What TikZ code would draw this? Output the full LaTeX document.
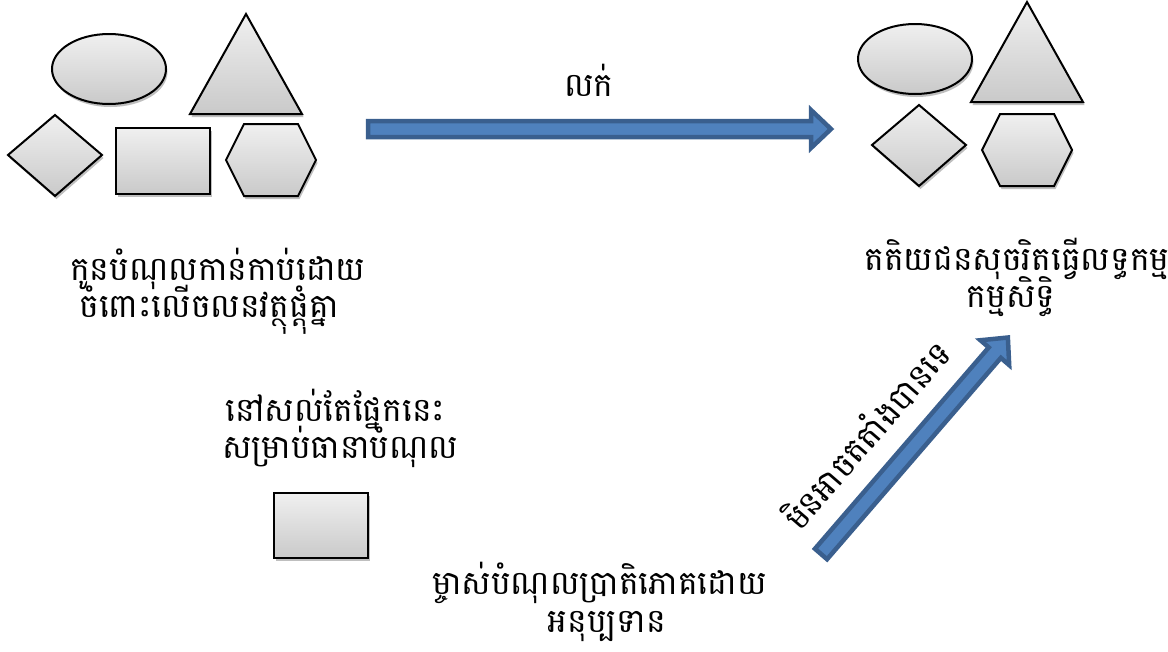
\documentclass[tikz,border=0pt]{standalone}
\usepackage{fontspec}
\newfontfamily\khmer[Script=Khmer]{Battambang}
\usetikzlibrary{shadows}
\definecolor{arrowfill}{HTML}{4F81BD}
\definecolor{arrowline}{HTML}{3A5F8E}
\tikzset{
  shapebox/.style={line width=2pt, draw=black, top color=gray!12, bottom color=gray!42,
    drop shadow={shadow xshift=1.5pt, shadow yshift=-3pt, opacity=0.25, fill=black}},
  blockarrow/.style={fill=arrowfill, draw=arrowline, line width=4.5pt, line join=miter},
  lbl/.style={align=center, font=\khmer\fontsize{33}{37}\selectfont, inner sep=0pt},
  lline/.style={font=\khmer\fontsize{33}{37}\selectfont, inner sep=0pt, anchor=base west},
  cline/.style={font=\khmer\fontsize{33}{37}\selectfont, inner sep=0pt, anchor=base}
}
\begin{document}
\begin{tikzpicture}[x=1pt,y=-1pt]
\useasboundingbox (0,0) rectangle (1168,651);
% left group
\path[shapebox] (109,69) ellipse [x radius=57, y radius=35];
\path[shapebox] (246,14) -- (302,114) -- (190,114) -- cycle;
\path[shapebox] (8,155) -- (55,115) -- (102,155) -- (55,196) -- cycle;
\path[shapebox] (116,128) rectangle (210,194);
\path[shapebox] (226,160) -- (244,124) -- (298,124) -- (316,160) -- (298,196) -- (244,196) -- cycle;
% right group
\path[shapebox] (915,59) ellipse [x radius=57, y radius=35];
\path[shapebox] (1027,2) -- (1083,102) -- (971,102) -- cycle;
\path[shapebox] (872,145) -- (919,105) -- (966,145) -- (919,186) -- cycle;
\path[shapebox] (982,150) -- (1000,114) -- (1054,114) -- (1072,150) -- (1054,186) -- (1000,186) -- cycle;
% small rectangle
\path[shapebox] (274,493) rectangle (368,558);
% horizontal arrow
\path[blockarrow] (368,121) -- (811,121) -- (811,110) -- (831,129) -- (811,148) -- (811,137) -- (368,137) -- cycle;
% diagonal arrow
\begin{scope}[shift={(821,554)}, rotate=49.2]
\path[blockarrow] (0,-8) -- (266,-8) -- (266,-19) -- (286,0) -- (266,19) -- (266,8) -- (0,8) -- cycle;
\end{scope}
% labels
\node[lbl] (sell) at (589,80) {លក់};
\node[lline] (debtorA) at (70,280) {កូនបំណុលកាន់កាប់ដោយ};
\node[cline] (debtorB) at (209,317) {ចំពោះលើចលនវត្ថុផ្តុំគ្នា};
\node[cline] (thirdA) at (1017,270) {តតិយជនសុចរិតធ្វើលទ្ធកម្ម};
\node[cline] (thirdB) at (1011,307) {កម្មសិទ្ធិ};
\node[lline] (remainA) at (225,421) {នៅសល់តែផ្នែកនេះ};
\node[lline] (remainB) at (222,458) {សម្រាប់ធានាបំណុល};
\node[lline] (creditorA) at (432,594) {ម្ចាស់បំណុលប្រាតិភោគដោយ};
\node[cline] (creditorB) at (607,632) {អនុប្បទាន};
\node[lbl, rotate=49.2] (oppose) at (866,434) {មិនអាចតតាំងបានទេ};
\end{tikzpicture}
\end{document}
